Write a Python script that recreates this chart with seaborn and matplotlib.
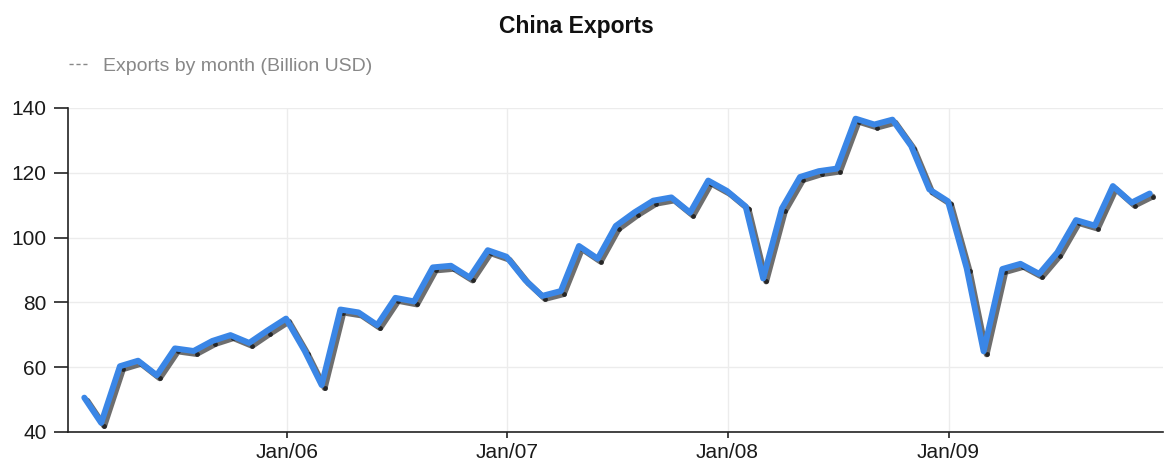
import pandas as pd
import numpy as np
import matplotlib
matplotlib.use('Agg')
import matplotlib.pyplot as plt
import matplotlib.dates as mdates
from matplotlib.lines import Line2D
from matplotlib.transforms import offset_copy
import seaborn as sns

# Monthly exports, Jan 2005 - Nov 2009 (billion USD)
exports_2005 = [50.6, 42.8, 60.3, 62.0, 57.5, 65.8, 65.0, 68.1, 69.9, 67.5, 71.3, 75.0]
exports_2006 = [65.0, 54.5, 77.8, 76.9, 73.0, 81.4, 80.3, 90.8, 91.3, 87.7, 96.1, 94.1]
exports_2007 = [86.9, 82.0, 83.5, 97.4, 93.5, 103.6, 107.8, 111.4, 112.4, 107.7, 117.6, 114.4]
exports_2008 = [109.6, 87.4, 109.0, 118.7, 120.5, 121.3, 136.7, 134.9, 136.4, 128.3, 114.9, 111.2]
exports_2009 = [90.5, 64.9, 90.3, 91.9, 88.8, 95.4, 105.4, 103.7, 115.9, 110.8, 113.6]

exports = exports_2005 + exports_2006 + exports_2007 + exports_2008 + exports_2009
months = pd.date_range('2005-01-31', periods=len(exports), freq='ME')

title = 'China Exports'
series_label = 'Exports by month (Billion USD)'
y_ticks = [40, 60, 80, 100, 120, 140]

df = pd.DataFrame({'month': months, 'exports': exports})

sns.set_theme(style='white')
plt.rcParams['font.family'] = ['Liberation Sans', 'DejaVu Sans']

W, H = 1166, 462
fig = plt.figure(figsize=(W / 100, H / 100), dpi=100)
ax = fig.add_axes([68 / W, 1 - 432 / H, 1095 / W, 324 / H])

# shadow line with dots, shifted a few pixels right/down
shadow_tf = offset_copy(ax.transData, fig=fig, x=3, y=-3, units='dots')
sns.lineplot(data=df, x='month', y='exports', ax=ax, color='#555555', alpha=0.85,
             linewidth=4.3, marker='o', markersize=3.5, markerfacecolor='#1a1a1a',
             markeredgewidth=0, transform=shadow_tf, legend=False, zorder=3)
# main line
sns.lineplot(data=df, x='month', y='exports', ax=ax, color='#3a86e6',
             linewidth=4.3, legend=False, zorder=4)

ax.set_xlim(pd.Timestamp('2005-01-04'), pd.Timestamp('2009-12-22'))
ax.set_ylim(40, 140)
ax.set_yticks(y_ticks)
ax.xaxis.set_major_locator(mdates.YearLocator())
ax.xaxis.set_major_formatter(mdates.DateFormatter('%b/%y'))
ax.set_xlabel('')
ax.set_ylabel('')

ax.grid(True, color='#ececec', linewidth=1)
ax.set_axisbelow(True)
for side in ['top', 'right']:
    ax.spines[side].set_visible(False)
for side in ['left', 'bottom']:
    ax.spines[side].set_color('#222222')
    ax.spines[side].set_linewidth(1.2)

ax.tick_params(axis='y', which='major', direction='out', length=10, width=1.2,
               color='#222222', pad=5.5, labelsize=15, labelcolor='#1a1a1a', left=True)
ax.tick_params(axis='x', which='major', direction='out', length=4.3, width=1.2,
               color='#222222', pad=3.5, labelsize=15, labelcolor='#1a1a1a', bottom=True)

fig.text(0.494, 1 - 27 / H, title, ha='center', va='center',
         fontsize=16.5, fontweight='bold', color='#111111')

handle = Line2D([], [], color='#888888', linewidth=1.0, linestyle=(0, (3, 2)))
fig.legend(handles=[handle], labels=[series_label], loc='center left',
           bbox_to_anchor=(69 / W, 1 - 66 / H), frameon=False, fontsize=14,
           labelcolor='#888888', handlelength=0.95, handletextpad=0.8,
           borderpad=0, borderaxespad=0)

fig.savefig('out.png', dpi=100, facecolor='white')
